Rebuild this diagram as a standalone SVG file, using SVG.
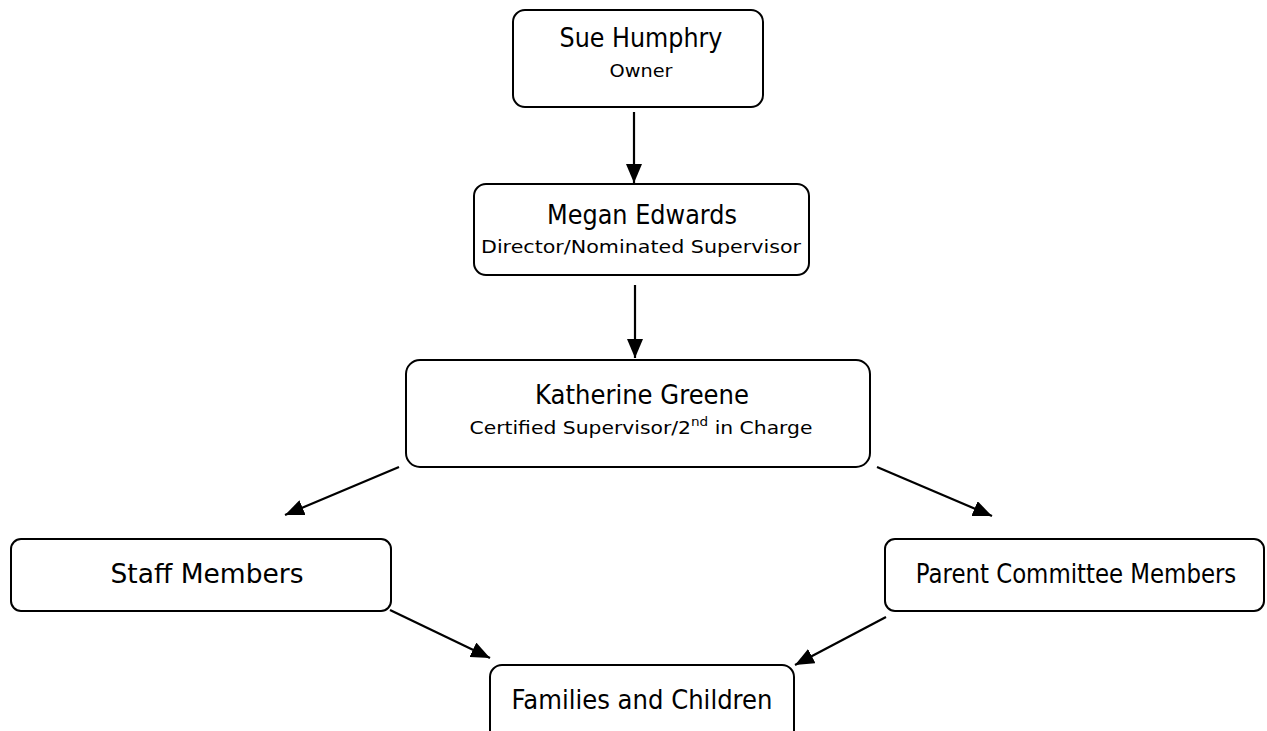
<svg xmlns="http://www.w3.org/2000/svg" width="1267" height="731" viewBox="0 0 1267 731">
<style>
.box{fill:#fff;stroke:#000;stroke-width:2}
.t{font-family:"DejaVu Sans","Liberation Sans",sans-serif;fill:#000;text-anchor:middle}
.big{font-size:26px}
.sub{font-size:18px}
.edge{stroke:#000;stroke-width:2.2;fill:none;marker-end:url(#ah)}
</style>
<defs>
<marker id="ah" markerUnits="userSpaceOnUse" markerWidth="20" markerHeight="16" refX="19" refY="8" orient="auto">
<path d="M0,0 L19,8 L0,16 Z" fill="#000"/>
</marker>
</defs>
<rect width="1267" height="731" fill="#fff"/>
<g id="connectors">
<line class="edge" x1="634" y1="112" x2="634" y2="183"/>
<line class="edge" x1="635" y1="285" x2="635" y2="358"/>
<line class="edge" x1="399" y1="467" x2="285" y2="515"/>
<line class="edge" x1="877" y1="467" x2="992" y2="516"/>
<line class="edge" x1="390" y1="610" x2="490" y2="658"/>
<line class="edge" x1="886" y1="617" x2="795" y2="665"/>
</g>
<g id="sue">
<rect class="box" x="513" y="10" width="250" height="97" rx="12"/>
<text class="t big" x="641" y="47" textLength="163" lengthAdjust="spacingAndGlyphs">Sue Humphry</text>
<text class="t sub" x="641" y="77" textLength="63" lengthAdjust="spacingAndGlyphs">Owner</text>
</g>
<g id="megan">
<rect class="box" x="474" y="184" width="335" height="91" rx="12"/>
<text class="t big" x="642" y="224" textLength="190" lengthAdjust="spacingAndGlyphs">Megan Edwards</text>
<text class="t sub" x="641" y="253" textLength="320" lengthAdjust="spacingAndGlyphs">Director/Nominated Supervisor</text>
</g>
<g id="katherine">
<rect class="box" x="406" y="360" width="464" height="107" rx="14"/>
<text class="t big" x="642" y="404" textLength="214" lengthAdjust="spacingAndGlyphs">Katherine Greene</text>
<text class="t sub" x="641" y="434" textLength="343" lengthAdjust="spacingAndGlyphs">Certified Supervisor/2<tspan font-size="12" dy="-8">nd</tspan><tspan dy="8"> in Charge</tspan></text>
</g>
<g id="staff">
<rect class="box" x="11" y="539" width="380" height="72" rx="10"/>
<text class="t big" x="207" y="583" textLength="193" lengthAdjust="spacingAndGlyphs">Staff Members</text>
</g>
<g id="parent">
<rect class="box" x="885" y="539" width="379" height="72" rx="10"/>
<text class="t" transform="translate(1076,583) scale(0.88,1)" font-size="26">Parent Committee Members</text>
</g>
<g id="families">
<rect class="box" x="490" y="665" width="304" height="80" rx="12"/>
<text class="t big" x="642" y="709" textLength="261" lengthAdjust="spacingAndGlyphs">Families and Children</text>
</g>
</svg>
